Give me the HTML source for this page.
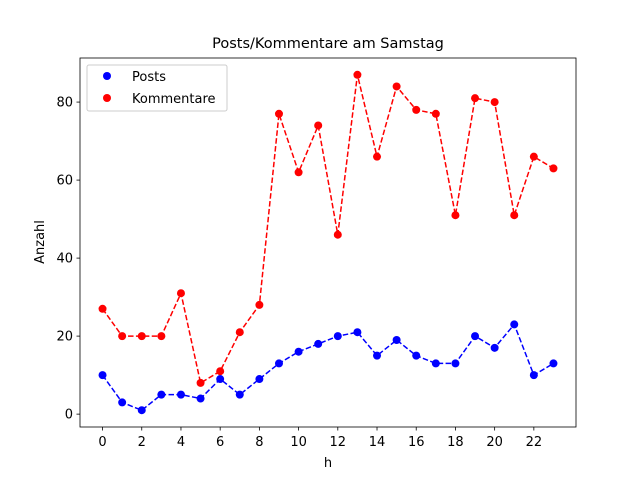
<!DOCTYPE html>
<html><head><meta charset="utf-8"><style>
body{margin:0;background:#fff;font-family:"Liberation Sans","DejaVu Sans",sans-serif}
</style></head><body>
<svg id="chart" width="640" height="480" xmlns="http://www.w3.org/2000/svg" font-family="DejaVu Sans, Liberation Sans, sans-serif"></svg>
<script>
const hours=[0,1,2,3,4,5,6,7,8,9,10,11,12,13,14,15,16,17,18,19,20,21,22,23];
const posts=[10,3,1,5,5,4,9,5,9,13,16,18,20,21,15,19,15,13,13,20,17,23,10,13];
const kommentare=[27,20,20,20,31,8,11,21,28,77,62,74,46,87,66,84,78,77,51,81,80,51,66,63];
const xTicks=[0,2,4,6,8,10,12,14,16,18,20,22];
const yTicks=[0,20,40,60,80];
const L=80,R=576,T=58,B=427;
const xMin=-1.15,xMax=24.15,yMin=-3.3,yMax=91.3;
const sx=v=>L+(v-xMin)/(xMax-xMin)*(R-L);
const sy=v=>B-(v-yMin)/(yMax-yMin)*(B-T);
const svg=document.getElementById('chart');
const NS='http://www.w3.org/2000/svg';
function mk(tag,attrs,name,parent){const e=document.createElementNS(NS,tag);for(const k in attrs)e.setAttribute(k,attrs[k]);


(parent||svg).appendChild(e);return e;}
mk('rect',{x:L,y:T,width:R-L,height:B-T,fill:'#fff',stroke:'#000','stroke-width':0.8},'plot-area');
xTicks.forEach(t=>{const x=sx(t);
mk('line',{x1:x,x2:x,y1:B,y2:B+3.5,stroke:'#000','stroke-width':0.8},'x-tick');
const tx=mk('text',{x:x,y:B+19,'text-anchor':'middle','font-size':13},'x-tick-label');tx.textContent=t;});
yTicks.forEach(t=>{const y=sy(t);
mk('line',{x1:L-3.5,x2:L,y1:y,y2:y,stroke:'#000','stroke-width':0.8},'y-tick');
const tx=mk('text',{x:L-7,y:y+4.5,'text-anchor':'end','font-size':13},'y-tick-label');tx.textContent=t;});
function series(vals,color,name){
const pts=hours.map((h,i)=>sx(h)+','+sy(vals[i])).join(' ');
mk('polyline',{points:pts,fill:'none',stroke:color,'stroke-width':1.5,'stroke-dasharray':'5.5,2.4'},name+'-line');
hours.forEach((h,i)=>mk('circle',{cx:sx(h),cy:sy(vals[i]),r:4,fill:color},name+'-point'));}
series(posts,'#0000ff','posts');
series(kommentare,'#ff0000','kommentare');
const t=mk('text',{x:(L+R)/2,y:48,'text-anchor':'middle','font-size':14.5},'chart-title');t.textContent='Posts/Kommentare am Samstag';
const xl=mk('text',{x:(L+R)/2,y:467,'text-anchor':'middle','font-size':13},'x-axis-title');xl.textContent='h';
const yl=mk('text',{x:0,y:0,'text-anchor':'middle','font-size':13,transform:'translate(44,242) rotate(-90)'},'y-axis-title');yl.textContent='Anzahl';
const lg=mk('g',{},'legend');
mk('rect',{x:87,y:65,width:140,height:46,rx:2,fill:'#fff','fill-opacity':0.8,stroke:'#ccc','stroke-width':1},'legend-box',lg);
mk('circle',{cx:107,cy:76,r:4,fill:'#0000ff'},'legend-posts-marker',lg);
const l1=mk('text',{x:132,y:81,'font-size':13},'legend-posts-label',lg);l1.textContent='Posts';
mk('circle',{cx:107,cy:98,r:4,fill:'#ff0000'},'legend-kommentare-marker',lg);
const l2=mk('text',{x:132,y:103,'font-size':13},'legend-kommentare-label',lg);l2.textContent='Kommentare';
</script>
</body></html>
